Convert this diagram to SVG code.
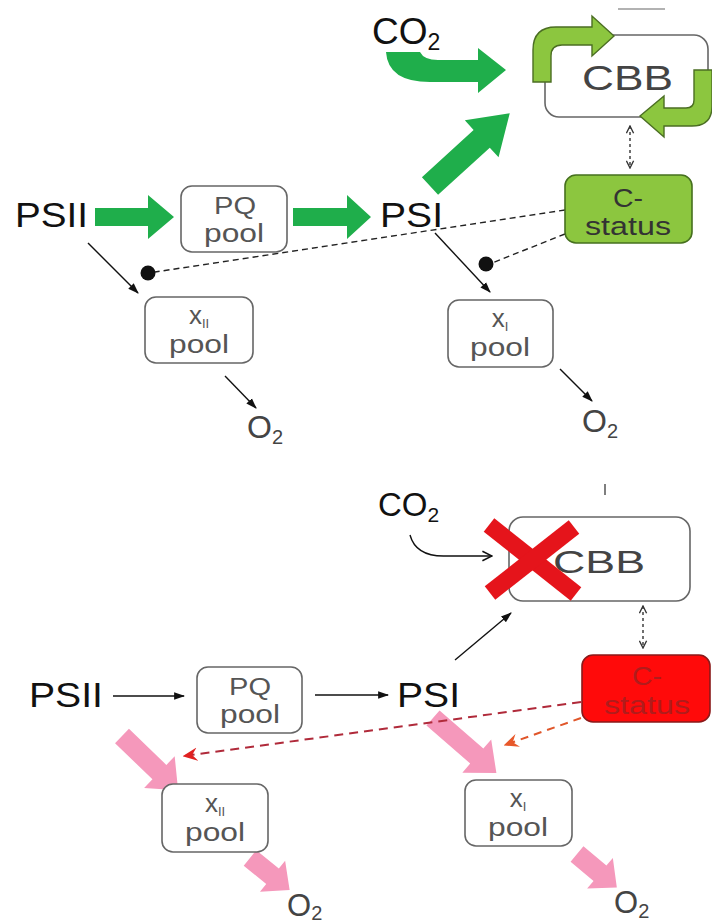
<svg xmlns="http://www.w3.org/2000/svg" width="712" height="922" viewBox="0 0 712 922">
<style>
text{font-family:"Liberation Sans",Arial,sans-serif;}
.lbl{fill:#111;}
.box{fill:#fff;stroke:#666;stroke-width:1.6;}
.bt{fill:#555;text-anchor:middle;}
.green{fill:#1fae4b;}
.lg{fill:#8cc63f;stroke:#4b6e23;stroke-width:1.4;}
.pink{fill:#f598bb;}
.thin{fill:none;stroke:#111;stroke-width:1.4;}
.dash{fill:none;stroke:#222;stroke-width:1.4;stroke-dasharray:6,4;}
.dot{fill:none;stroke:#333;stroke-width:1.4;stroke-dasharray:3,3;}
.rdash{fill:none;stroke:#b02a3a;stroke-width:2;stroke-dasharray:9,6;}
.odash{fill:none;stroke:#e0562a;stroke-width:2;stroke-dasharray:8,6;}
</style>
<defs>
<marker id="ah" viewBox="0 0 10 10" refX="9" refY="5" markerWidth="11" markerHeight="11" markerUnits="userSpaceOnUse" orient="auto"><path d="M0,1.5 L10,5 L0,8.5 Z" fill="#111"/></marker>
<marker id="chev" viewBox="0 0 10 10" refX="9" refY="5" markerWidth="9" markerHeight="9" markerUnits="userSpaceOnUse" orient="auto-start-reverse"><path d="M1,1 L9,5 L1,9" fill="none" stroke="#333" stroke-width="1.5"/></marker>
<marker id="open" viewBox="0 0 10 10" refX="9" refY="5" markerWidth="12" markerHeight="12" markerUnits="userSpaceOnUse" orient="auto"><path d="M1,1 L9,5 L1,9" fill="none" stroke="#111" stroke-width="1.3"/></marker>
<marker id="rbarb" viewBox="0 0 10 10" refX="9" refY="5" markerWidth="15" markerHeight="15" markerUnits="userSpaceOnUse" orient="auto"><path d="M0,0.5 L10,5 L0,9.5 L3.5,5 Z" fill="#e02020"/></marker>
<marker id="obarb" viewBox="0 0 10 10" refX="9" refY="5" markerWidth="15" markerHeight="15" markerUnits="userSpaceOnUse" orient="auto"><path d="M0,0.5 L10,5 L0,9.5 L3.5,5 Z" fill="#e8582a"/></marker>
</defs>

<!-- ========== TOP PANEL ========== -->
<g id="connectors-top">
  <line x1="618" y1="9" x2="665" y2="9" stroke="#999" stroke-width="1.5"/>
  <path class="green" d="M386,52 Q388,82 430,82 L478,82 L478,93 L506,70 L478,48 L478,60 L438,60 Q424,60 420,52 Z"/>
  <polygon class="green" transform="translate(430,186) rotate(-42.4)" points="0,-12 70,-12 70,-25 108,0 70,25 70,12 0,12"/>
  <polygon class="green" points="95,208 148,208 148,195 174,217 148,239 148,226 95,226"/>
  <polygon class="green" points="293,208 347,208 347,195 371,217 347,239 347,226 293,226"/>
  <line class="dot" x1="630" y1="126" x2="630" y2="168" marker-start="url(#chev)" marker-end="url(#chev)"/>
  <line class="thin" x1="88" y1="243" x2="138" y2="293" marker-end="url(#ah)"/>
  <line class="thin" x1="435" y1="233" x2="490" y2="292" marker-end="url(#ah)"/>
  <line class="thin" x1="225" y1="376" x2="256" y2="408" marker-end="url(#ah)"/>
  <line class="thin" x1="560" y1="369" x2="592" y2="401" marker-end="url(#ah)"/>
  <path class="dash" d="M565,210 L155,272"/>
  <path class="dash" d="M565,234 L492,263"/>
  <circle cx="148" cy="273" r="7.5" fill="#111"/>
  <circle cx="486" cy="264" r="7.5" fill="#111"/>
</g>

<g id="co2-top"><text class="lbl" x="372" y="44" font-size="37">CO<tspan font-size="23" dy="6">2</tspan></text></g>

<g id="cbb-top">
  <rect class="box" x="545" y="35" width="163" height="82" rx="14"/>
  <text x="582" y="90" font-size="35" fill="#444" textLength="91" lengthAdjust="spacingAndGlyphs">CBB</text>
  <path class="lg" d="M533,82 L533,50 Q533,27 556,27 L592,27 L592,16 L614,36 L592,56 L592,45 L562,45 Q551,45 551,56 L551,82 Z"/>
  <path class="lg" d="M712,70 L712,106 Q712,126 692,126 L664,126 L664,137 L640,116 L664,96 L664,108 L686,108 Q694,108 694,100 L694,70 Z"/>
</g>

<g id="cstatus-top">
  <rect x="565" y="175" width="127" height="68" rx="11" fill="#8cc63f" stroke="#46701f" stroke-width="1.6"/>
  <text x="628" y="207" font-size="26" fill="#333" text-anchor="middle" textLength="30" lengthAdjust="spacingAndGlyphs">C-</text>
  <text x="628" y="235" font-size="26" fill="#333" text-anchor="middle" textLength="86" lengthAdjust="spacingAndGlyphs">status</text>
</g>

<g id="psii-top"><text class="lbl" x="15" y="227" font-size="35" textLength="73" lengthAdjust="spacingAndGlyphs">PSII</text></g>
<g id="psi-top"><text class="lbl" x="380" y="227" font-size="35" textLength="63" lengthAdjust="spacingAndGlyphs">PSI</text></g>

<g id="pq-top">
  <rect class="box" x="181" y="186" width="106" height="66" rx="11"/>
  <text class="bt" x="235" y="214" font-size="24" textLength="42" lengthAdjust="spacingAndGlyphs">PQ</text>
  <text class="bt" x="234" y="242" font-size="25" textLength="60" lengthAdjust="spacingAndGlyphs">pool</text>
</g>

<g id="xii-top">
  <rect class="box" x="145" y="297" width="108" height="66" rx="11"/>
  <text class="bt" x="199" y="324" font-size="26">x<tspan font-size="13" dy="4">II</tspan></text>
  <text class="bt" x="199" y="353" font-size="25" textLength="60" lengthAdjust="spacingAndGlyphs">pool</text>
</g>

<g id="xi-top">
  <rect class="box" x="448" y="300" width="105" height="67" rx="11"/>
  <text class="bt" x="500" y="327" font-size="26">x<tspan font-size="13" dy="4">I</tspan></text>
  <text class="bt" x="500" y="356" font-size="25" textLength="60" lengthAdjust="spacingAndGlyphs">pool</text>
</g>

<g id="o2-top-left"><text fill="#444" x="247" y="438" font-size="32">O<tspan font-size="20" dy="6">2</tspan></text></g>
<g id="o2-top-right"><text fill="#444" x="582" y="432" font-size="32">O<tspan font-size="20" dy="6">2</tspan></text></g>

<!-- ========== BOTTOM PANEL ========== -->
<g id="connectors-bottom">
  <line x1="605" y1="484" x2="605" y2="495" stroke="#555" stroke-width="1.5"/>
  <path class="thin" d="M410,535 Q416,557 446,556 L492,556" marker-end="url(#open)"/>
  <line class="thin" x1="455" y1="660" x2="511" y2="613" marker-end="url(#ah)"/>
  <line class="thin" x1="113" y1="696" x2="184" y2="696" marker-end="url(#ah)"/>
  <line class="thin" x1="315" y1="695" x2="388" y2="695" marker-end="url(#ah)"/>
  <line class="dot" x1="643" y1="606" x2="643" y2="648" marker-start="url(#chev)" marker-end="url(#chev)"/>
  <polygon class="pink" transform="translate(122,736) rotate(44)" points="0,-10 52,-10 52,-22 78,0 52,22 52,10 0,10"/>
  <polygon class="pink" transform="translate(433,718) rotate(41)" points="0,-10 58,-10 58,-22 84,0 58,22 58,10 0,10"/>
  <polygon class="pink" transform="translate(250,858) rotate(39)" points="0,-10 29,-10 29,-20 51,0 29,20 29,10 0,10"/>
  <polygon class="pink" transform="translate(577,854) rotate(40)" points="0,-10 30,-10 30,-20 52,0 30,20 30,10 0,10"/>
  <line class="rdash" x1="581" y1="702" x2="184" y2="756" marker-end="url(#rbarb)"/>
  <line class="odash" x1="581" y1="718" x2="505" y2="745" marker-end="url(#obarb)"/>
</g>

<g id="co2-bottom"><text class="lbl" x="378" y="516" font-size="33">CO<tspan font-size="21" dy="6">2</tspan></text></g>

<g id="cbb-bottom">
  <rect class="box" x="509" y="517" width="181" height="84" rx="14"/>
  <text x="553" y="573" font-size="32" fill="#444" textLength="92" lengthAdjust="spacingAndGlyphs">CBB</text>
  <g id="red-x" stroke="#e5141b" stroke-width="17">
    <line x1="489" y1="525" x2="576" y2="594"/>
    <line x1="574" y1="527" x2="490" y2="593"/>
  </g>
</g>

<g id="cstatus-bottom">
  <rect x="582" y="655" width="128" height="67" rx="11" fill="#ff0a0a" stroke="#8a1a1a" stroke-width="1.6"/>
  <text x="647" y="685" font-size="26" fill="#b01c1c" text-anchor="middle" textLength="30" lengthAdjust="spacingAndGlyphs">C-</text>
  <text x="647" y="714" font-size="26" fill="#b01c1c" text-anchor="middle" textLength="86" lengthAdjust="spacingAndGlyphs">status</text>
</g>

<g id="psii-bottom"><text class="lbl" x="29" y="707" font-size="35" textLength="74" lengthAdjust="spacingAndGlyphs">PSII</text></g>
<g id="psi-bottom"><text class="lbl" x="397" y="707" font-size="35" textLength="63" lengthAdjust="spacingAndGlyphs">PSI</text></g>

<g id="pq-bottom">
  <rect class="box" x="197" y="667" width="105" height="66" rx="11"/>
  <text class="bt" x="250" y="695" font-size="24" textLength="42" lengthAdjust="spacingAndGlyphs">PQ</text>
  <text class="bt" x="250" y="723" font-size="25" textLength="60" lengthAdjust="spacingAndGlyphs">pool</text>
</g>

<g id="xii-bottom">
  <rect class="box" x="162" y="784" width="106" height="68" rx="11"/>
  <text class="bt" x="215" y="812" font-size="26">x<tspan font-size="13" dy="4">II</tspan></text>
  <text class="bt" x="215" y="841" font-size="25" textLength="60" lengthAdjust="spacingAndGlyphs">pool</text>
</g>

<g id="xi-bottom">
  <rect class="box" x="465" y="780" width="107" height="66" rx="11"/>
  <text class="bt" x="518" y="807" font-size="26">x<tspan font-size="13" dy="4">I</tspan></text>
  <text class="bt" x="518" y="836" font-size="25" textLength="60" lengthAdjust="spacingAndGlyphs">pool</text>
</g>

<g id="o2-bottom-left"><text fill="#444" x="287" y="916" font-size="31">O<tspan font-size="20" dy="4">2</tspan></text></g>
<g id="o2-bottom-right"><text fill="#444" x="614" y="913" font-size="31">O<tspan font-size="20" dy="5">2</tspan></text></g>
</svg>
